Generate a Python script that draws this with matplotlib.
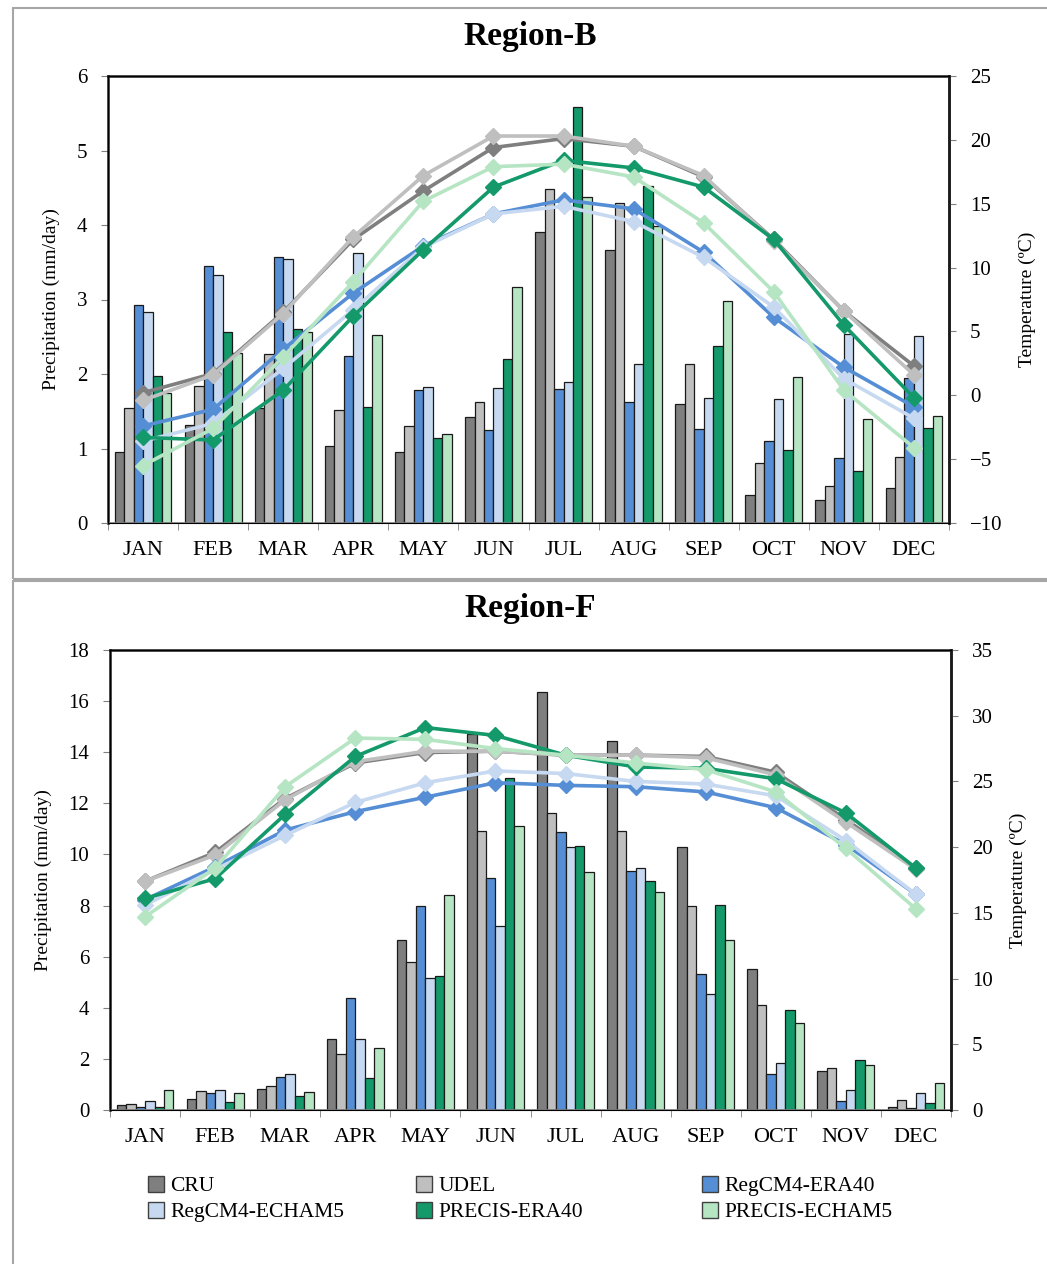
import numpy as np
import matplotlib.pyplot as plt
from matplotlib.patches import Rectangle, Patch

plt.rcParams['font.family'] = ['Liberation Serif', 'DejaVu Serif']

months = ["JAN", "FEB", "MAR", "APR", "MAY", "JUN", "JUL", "AUG", "SEP", "OCT", "NOV", "DEC"]
series = ["CRU", "UDEL", "RegCM4-ERA40", "RegCM4-ECHAM5", "PRECIS-ERA40", "PRECIS-ECHAM5"]
colors = ["#7f7f7f", "#bfbfbf", "#558ed5", "#c6d9f1", "#13996a", "#b6e5c4"]

# Region-B precipitation (mm/day)
b_pr_cru = [0.95, 1.31, 1.55, 1.04, 0.95, 1.42, 3.91, 3.66, 1.60, 0.37, 0.31, 0.47]
b_pr_udel = [1.55, 1.84, 2.27, 1.52, 1.30, 1.62, 4.48, 4.29, 2.14, 0.80, 0.49, 0.88]
b_pr_rera = [2.92, 3.45, 3.57, 2.24, 1.78, 1.25, 1.80, 1.63, 1.26, 1.10, 0.87, 1.94]
b_pr_rech = [2.83, 3.33, 3.54, 3.63, 1.82, 1.81, 1.89, 2.13, 1.68, 1.66, 2.54, 2.51]
b_pr_pera = [1.97, 2.56, 2.60, 1.56, 1.14, 2.20, 5.59, 4.53, 2.38, 0.98, 0.70, 1.28]
b_pr_pech = [1.74, 2.28, 2.56, 2.52, 1.20, 3.17, 4.38, 3.99, 2.98, 1.96, 1.39, 1.43]

# Region-B temperature (C)
b_t_cru = [0.2, 1.7, 6.5, 12.2, 16.0, 19.4, 20.1, 19.5, 17.1, 12.2, 6.6, 2.3]
b_t_udel = [-0.4, 1.6, 6.4, 12.4, 17.2, 20.3, 20.3, 19.5, 17.2, 12.1, 6.6, 1.6]
b_t_rera = [-2.4, -1.1, 3.6, 8.0, 11.7, 14.2, 15.3, 14.6, 11.2, 6.1, 2.2, -0.9]
b_t_rech = [-3.6, -2.2, 2.1, 6.7, 11.6, 14.2, 14.8, 13.6, 10.8, 6.9, 1.3, -1.8]
b_t_pera = [-3.3, -3.5, 0.4, 6.2, 11.4, 16.3, 18.4, 17.8, 16.3, 12.2, 5.5, -0.2]
b_t_pech = [-5.5, -2.6, 3.0, 8.9, 15.2, 17.9, 18.1, 17.1, 13.5, 8.1, 0.4, -4.1]

# Region-F precipitation (mm/day)
f_pr_cru = [0.18, 0.42, 0.83, 2.76, 6.67, 14.70, 16.37, 14.45, 10.31, 5.52, 1.51, 0.13]
f_pr_udel = [0.25, 0.74, 0.92, 2.20, 5.81, 10.90, 11.64, 10.90, 7.99, 4.11, 1.64, 0.40]
f_pr_rera = [0.13, 0.65, 1.29, 4.39, 7.99, 9.08, 10.86, 9.36, 5.34, 1.42, 0.36, 0.09]
f_pr_rech = [0.36, 0.78, 1.39, 2.76, 5.16, 7.19, 10.31, 9.48, 4.52, 1.82, 0.77, 0.65]
f_pr_pera = [0.13, 0.33, 0.55, 1.25, 5.26, 13.00, 10.35, 8.95, 8.02, 3.93, 1.95, 0.29]
f_pr_pech = [0.78, 0.65, 0.70, 2.43, 8.40, 11.13, 9.31, 8.53, 6.67, 3.42, 1.78, 1.05]

# Region-F temperature (C)
f_t_cru = [17.4, 19.6, 23.7, 26.4, 27.2, 27.3, 27.0, 27.0, 26.9, 25.7, 22.1, 18.4]
f_t_udel = [17.4, 19.4, 23.6, 26.5, 27.3, 27.3, 27.0, 27.0, 26.8, 25.5, 21.9, 18.3]
f_t_rera = [16.0, 18.5, 21.3, 22.7, 23.8, 24.9, 24.7, 24.6, 24.2, 23.0, 20.2, 16.4]
f_t_rech = [15.6, 18.3, 20.9, 23.4, 24.9, 25.8, 25.6, 25.0, 24.8, 23.9, 20.5, 16.4]
f_t_pera = [16.1, 17.6, 22.5, 26.9, 29.1, 28.5, 27.0, 26.1, 26.0, 25.2, 22.6, 18.4]
f_t_pech = [14.7, 18.4, 24.6, 28.3, 28.2, 27.5, 27.0, 26.4, 25.9, 24.2, 19.9, 15.3]

b_pr = [b_pr_cru, b_pr_udel, b_pr_rera, b_pr_rech, b_pr_pera, b_pr_pech]
b_t = [b_t_cru, b_t_udel, b_t_rera, b_t_rech, b_t_pera, b_t_pech]
f_pr = [f_pr_cru, f_pr_udel, f_pr_rera, f_pr_rech, f_pr_pera, f_pr_pech]
f_t = [f_t_cru, f_t_udel, f_t_rera, f_t_rech, f_t_pera, f_t_pech]

W, H = 1047, 1264
fig = plt.figure(figsize=(W / 100, H / 100), dpi=100)

# panel frames
fig.patches.append(Rectangle((13 / W, 1 - 579 / H), (W - 13) / W + 0.01, (579 - 8) / H,
                             transform=fig.transFigure, fill=False, edgecolor="#a6a6a6", lw=1.5))
fig.patches.append(Rectangle((13 / W, -0.01), (W - 13) / W + 0.01, (H - 581) / H + 0.01,
                             transform=fig.transFigure, fill=False, edgecolor="#a6a6a6", lw=1.5))

x = np.arange(len(months))
bw = 0.135


def panel(rect, pr, temp, ylim, yticks, tlim, tticks, title, title_y):
    ax = fig.add_axes(rect)
    for i, vals in enumerate(pr):
        ax.bar(x + (i - 2.5) * bw, vals, bw, color=colors[i], edgecolor="#1a1a1a", lw=0.9, zorder=2)
    ax.set_xlim(-0.5, 11.5)
    ax.set_ylim(*ylim)
    ax.set_yticks(yticks)
    ax.set_xticks(x)
    ax.set_xticklabels(months)
    ax.set_xticks(np.arange(-0.5, 12, 1), minor=True)
    ax.tick_params(axis="x", which="major", length=0, pad=13, labelsize=16)
    ax.tick_params(axis="x", which="minor", length=5, color="#808080", direction="out")
    ax.tick_params(axis="y", length=5, color="#808080", labelsize=15, pad=10)
    ax.set_ylabel("Precipitation (mm/day)", fontsize=14, labelpad=12)
    for s in ["left", "top", "right"]:
        ax.spines[s].set_linewidth(1.8)
        ax.spines[s].set_color("#1a1a1a")
    ax.spines["bottom"].set_color("#808080")
    ax.spines["bottom"].set_linewidth(1.2)

    ax2 = ax.twinx()
    for i, vals in enumerate(temp):
        ax2.plot(x, vals, color=colors[i], lw=2.6, marker="D", ms=8, zorder=3)
    ax2.set_ylim(*tlim)
    ax2.set_yticks(tticks)
    ax2.tick_params(axis="y", length=5, color="#808080", labelsize=15, pad=10)
    ax2.set_ylabel("Temperature (ºC)", fontsize=14, labelpad=12)
    ax2.spines["right"].set_linewidth(1.8)
    ax2.spines["right"].set_color("#1a1a1a")
    fig.text(530 / W, 1 - title_y / H, title, ha="center", va="center",
             fontsize=24, fontweight="bold")
    return ax


panel([108 / W, 1 - 523 / H, 841 / W, 447 / H], b_pr, b_t, (0, 6), range(0, 7),
      (-10, 25), range(-10, 30, 5), "Region-B", 36)
panel([110 / W, 1 - 1110 / H, 841 / W, 460 / H], f_pr, f_t, (0, 18), range(0, 20, 2),
      (0, 35), range(0, 40, 5), "Region-F", 608)

# legend: three columns of two rows, read row by row
col_x = [148, 416, 702]
for c in range(3):
    idx = [c, c + 3]
    hs = [Patch(facecolor=colors[i], edgecolor="#404040", lw=1) for i in idx]
    fig.legend(hs, [series[i] for i in idx], loc="upper left",
               bbox_to_anchor=(col_x[c] / W, 1 - 1176 / H), frameon=False, fontsize=15.5,
               handlelength=0.75, handleheight=0.75, handletextpad=0.3,
               labelspacing=0.25, borderpad=0, borderaxespad=0)

fig.savefig("out.png", dpi=100)
